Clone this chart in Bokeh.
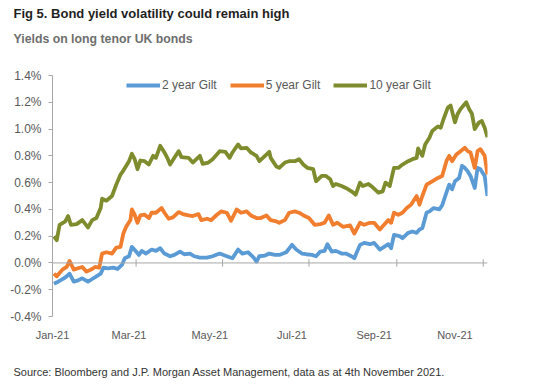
import pandas as pd
from bokeh.plotting import figure
from bokeh.models import (Range1d, FixedTicker, CustomJSTickFormatter, PrintfTickFormatter,
                          Span, Title, Legend, LegendItem)
from bokeh.embed import file_html
from bokeh.resources import INLINE

# ---------------- data (yields in %, x = days since 2021-01-01) ----------------
start_date = "2021-01-01"

days_2y = [1, 4, 8, 10, 12, 15, 18, 21, 25, 28, 31, 34, 36, 39, 43, 46, 49, 51, 54, 56,
           59, 61, 63, 66, 70, 73, 76, 79, 83, 86, 90, 93, 97, 100, 104, 109, 113, 118, 123, 127,
           131, 134, 138, 142, 144, 146, 150, 153, 157, 160, 165, 169, 172, 176, 179, 183, 186, 189, 192, 194,
           197, 200, 204, 207, 211, 213, 217, 220, 224, 227, 231, 234, 237, 239, 241, 245, 247, 251, 254, 257,
           259, 261, 264, 266, 269, 273, 275, 278, 280, 282, 284, 287, 289, 291, 293, 295, 298, 300, 302, 305, 307]
gilt_2y = [-0.155, -0.14, -0.115, -0.10, -0.08, -0.14, -0.13, -0.115, -0.14, -0.12, -0.10, -0.08, -0.035, -0.04, -0.035, -0.045, -0.015, 0.035, 0.05, 0.12,
           0.085, 0.06, 0.09, 0.07, 0.10, 0.09, 0.11, 0.07, 0.05, 0.06, 0.085, 0.065, 0.07, 0.05, 0.04, 0.04, 0.05, 0.07, 0.05, 0.035,
           0.10, 0.07, 0.08, 0.04, 0.01, 0.05, 0.055, 0.07, 0.06, 0.06, 0.08, 0.135, 0.10, 0.07, 0.065, 0.06, 0.05, 0.085, 0.09, 0.14,
           0.085, 0.09, 0.07, 0.07, 0.05, 0.035, 0.135, 0.15, 0.14, 0.15, 0.10, 0.12, 0.14, 0.11, 0.21, 0.20, 0.185, 0.225, 0.235, 0.225,
           0.25, 0.26, 0.375, 0.385, 0.41, 0.40, 0.43, 0.525, 0.585, 0.55, 0.61, 0.635, 0.725, 0.71, 0.685, 0.65, 0.56, 0.71, 0.70, 0.65, 0.50]

days_5y = [1, 3, 7, 10, 12, 15, 18, 21, 24, 28, 30, 33, 35, 38, 42, 45, 48, 50, 52, 55,
           56, 58, 60, 62, 65, 68, 70, 73, 77, 79, 82, 85, 89, 92, 96, 99, 103, 105, 109, 112,
           116, 119, 123, 126, 130, 133, 137, 140, 144, 147, 151, 154, 158, 160, 164, 167, 171, 174, 178, 181,
           185, 189, 192, 195, 198, 201, 205, 210, 213, 217, 220, 224, 227, 231, 234, 237, 239, 241, 244, 247,
           250, 253, 257, 259, 261, 264, 268, 272, 275, 278, 280, 282, 285, 288, 291, 293, 295, 298, 300, 302, 305, 307]
gilt_5y = [-0.08, -0.10, -0.05, -0.03, 0.015, -0.05, -0.04, -0.03, -0.065, -0.045, -0.03, -0.035, 0.07, 0.08, 0.07, 0.115, 0.12, 0.22, 0.27, 0.32,
           0.40, 0.36, 0.30, 0.355, 0.36, 0.335, 0.375, 0.375, 0.41, 0.375, 0.33, 0.34, 0.38, 0.365, 0.355, 0.35, 0.365, 0.32, 0.33, 0.32,
           0.36, 0.385, 0.375, 0.315, 0.40, 0.375, 0.385, 0.355, 0.335, 0.335, 0.355, 0.32, 0.31, 0.30, 0.32, 0.375, 0.385, 0.375, 0.35, 0.335,
           0.285, 0.29, 0.30, 0.355, 0.285, 0.30, 0.27, 0.28, 0.22, 0.30, 0.285, 0.30, 0.30, 0.25, 0.285, 0.32, 0.30, 0.375, 0.36, 0.375,
           0.41, 0.435, 0.50, 0.435, 0.50, 0.585, 0.61, 0.635, 0.65, 0.76, 0.80, 0.76, 0.81, 0.835, 0.86, 0.835, 0.825, 0.71, 0.835, 0.85, 0.80, 0.66]

days_10y = [1, 3, 5, 9, 11, 13, 17, 21, 25, 28, 31, 34, 35, 38, 42, 45, 48, 50, 54, 56,
            58, 60, 62, 65, 68, 71, 73, 76, 79, 81, 83, 86, 89, 91, 96, 99, 104, 106, 110, 113,
            118, 122, 125, 127, 131, 133, 137, 140, 144, 146, 150, 153, 154, 158, 160, 164, 167, 171, 174, 177,
            180, 184, 186, 190, 193, 196, 198, 200, 204, 207, 211, 214, 217, 219, 223, 226, 230, 233, 235, 238,
            241, 244, 247, 251, 254, 257, 258, 261, 263, 266, 268, 272, 274, 276, 279, 281, 284, 286, 288, 292,
            294, 296, 298, 301, 303, 305, 307]
gilt_10y = [0.198, 0.17, 0.285, 0.31, 0.35, 0.285, 0.29, 0.32, 0.265, 0.32, 0.335, 0.41, 0.48, 0.465, 0.50, 0.585, 0.66, 0.69, 0.76, 0.815,
            0.775, 0.70, 0.765, 0.76, 0.735, 0.80, 0.785, 0.875, 0.825, 0.785, 0.735, 0.785, 0.835, 0.79, 0.785, 0.75, 0.80, 0.74, 0.75, 0.775,
            0.835, 0.83, 0.785, 0.825, 0.885, 0.855, 0.86, 0.825, 0.80, 0.76, 0.80, 0.83, 0.785, 0.72, 0.71, 0.75, 0.76, 0.76, 0.775, 0.735,
            0.71, 0.70, 0.61, 0.65, 0.65, 0.625, 0.575, 0.59, 0.575, 0.56, 0.535, 0.51, 0.60, 0.575, 0.59, 0.565, 0.525, 0.535, 0.60, 0.575,
            0.71, 0.71, 0.735, 0.76, 0.775, 0.785, 0.855, 0.80, 0.885, 0.935, 0.985, 1.02, 1.01, 1.075, 1.16, 1.175, 1.05, 1.115, 1.15, 1.20,
            1.15, 1.115, 1.00, 1.05, 1.06, 1.01, 0.94]

series_names = ["2 year Gilt", "5 year Gilt", "10 year Gilt"]
series_colors = ["#5B9BD5", "#F07E2E", "#7F8C2E"]

y_ticks = [-0.4, -0.2, 0.0, 0.2, 0.4, 0.6, 0.8, 1.0, 1.2, 1.4]
x_label_days = [0, 54, 111, 169, 227, 284]
x_labels = ["Jan-21", "Mar-21", "May-21", "Jul-21", "Sep-21", "Nov-21"]
tick_mark_dates = ["2021-03-01", "2021-05-01", "2021-07-01", "2021-09-01", "2021-11-01"]
x_end_day = 307

title_text = "Fig 5. Bond yield volatility could remain high"
subtitle_text = "Yields on long tenor UK bonds"
source_text = "Source: Bloomberg and J.P. Morgan Asset Management, data as at 4th November 2021."

# ---------------- helpers ----------------
base = pd.Timestamp(start_date)


def to_dates(days):
    return [base + pd.Timedelta(days=d) for d in days]


def to_ms(ts):
    return int(pd.Timestamp(ts).value // 10**6)


FONT = "Liberation Sans"
AXIS_GRAY = "#a6a6a6"
TEXT_GRAY = "#595959"

p = figure(x_axis_type="datetime",
           x_range=Range1d(base, base + pd.Timedelta(days=x_end_day)),
           y_range=Range1d(-0.4, 1.4),
           width=554, height=389,
           min_border_left=52, min_border_right=67, min_border_top=75, min_border_bottom=73,
           output_backend="svg", toolbar_location=None,
           background_fill_color="white", border_fill_color="white",
           outline_line_color=None)
p.grid.visible = False

# y axis
yax = p.yaxis[0]
yax.ticker = FixedTicker(ticks=y_ticks)
yax.formatter = PrintfTickFormatter(format="%.1f%%")
yax.major_tick_in = 0
yax.major_tick_out = 4
yax.minor_tick_line_color = None
yax.axis_line_color = AXIS_GRAY
yax.major_tick_line_color = AXIS_GRAY
yax.major_label_text_font = FONT
yax.major_label_text_font_size = "12px"
yax.major_label_text_color = TEXT_GRAY
yax.major_label_standoff = 7

# x axis (labels only)
xax = p.xaxis[0]
label_ms = [to_ms(d) for d in to_dates(x_label_days)]
xax.ticker = FixedTicker(ticks=label_ms, minor_ticks=[])
xax.formatter = CustomJSTickFormatter(args=dict(pos=label_ms, labels=x_labels), code="""
let best = 0, bd = Infinity;
for (let i = 0; i < pos.length; i++) { const d = Math.abs(pos[i] - tick); if (d < bd) { bd = d; best = i; } }
return labels[best];
""")
xax.axis_line_color = None
xax.major_tick_line_color = None
xax.minor_tick_line_color = None
xax.major_tick_in = 0
xax.major_tick_out = 0
xax.major_label_text_font = FONT
xax.major_label_text_font_size = "11px"
xax.major_label_text_color = TEXT_GRAY
xax.major_label_standoff = 12

# zero line with month tick marks
p.add_layout(Span(location=0, dimension="width", line_color=AXIS_GRAY, line_width=1))
tm = [pd.Timestamp(d) for d in tick_mark_dates]
p.segment(x0=tm, y0=[-0.028] * len(tm), x1=tm, y1=[0.028] * len(tm),
          line_color=AXIS_GRAY, line_width=1)

# series
renderers = []
for days, vals, col in [(days_2y, gilt_2y, series_colors[0]),
                        (days_5y, gilt_5y, series_colors[1]),
                        (days_10y, gilt_10y, series_colors[2])]:
    r = p.line(to_dates(days), vals, line_color=col, line_width=3.8, line_join="round")
    renderers.append(r)

legend = Legend(items=[LegendItem(label=n, renderers=[r]) for n, r in zip(series_names, renderers)],
                orientation="horizontal", location=(74, 224),
                glyph_width=34, glyph_height=14, label_height=14, label_standoff=2,
                spacing=13, padding=0, margin=0, border_line_color=None,
                background_fill_alpha=0,
                label_text_font=FONT, label_text_font_size="12px", label_text_color=TEXT_GRAY)
p.add_layout(legend)

# texts (side panels stack outward from the plot frame)
p.title.visible = False
p.add_layout(Title(text=" ", align="left", standoff=10, text_font=FONT,
                   text_font_size="10px", text_color="white"), "above")
p.add_layout(Title(text=subtitle_text, align="left", offset=-39, standoff=14, text_font=FONT,
                   text_font_style="bold", text_font_size="12.3px", text_color="#6e6e6e"), "above")
p.add_layout(Title(text=title_text, align="left", offset=-39, standoff=4, text_font=FONT,
                   text_font_style="bold", text_font_size="13px", text_color="#1f1f1f"), "above")
p.add_layout(Title(text=" ", align="left", standoff=5, text_font=FONT,
                   text_font_size="10px", text_color="white"), "below")
p.add_layout(Title(text=source_text, align="left", offset=-39, standoff=4, text_font=FONT,
                   text_font_style="normal", text_font_size="11px", text_color="#333333"), "below")

open("out.html", "w").write(file_html(p, INLINE))
